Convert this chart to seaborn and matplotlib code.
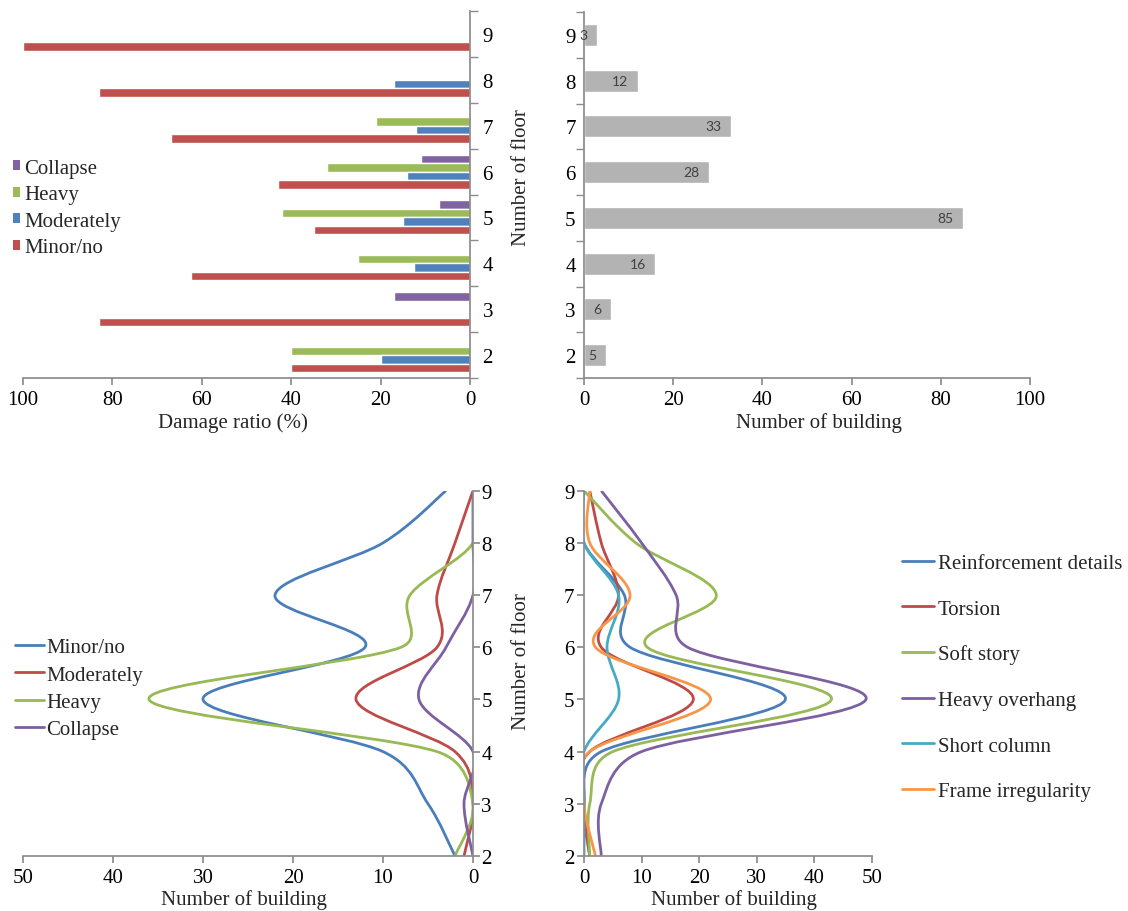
import numpy as np
import pandas as pd
import matplotlib
matplotlib.use("Agg")
import matplotlib.pyplot as plt
import seaborn as sns
from matplotlib.path import Path
from matplotlib.patches import PathPatch, Patch
from matplotlib.lines import Line2D

# data
floors = [2, 3, 4, 5, 6, 7, 8, 9]

# damage ratio (%) per floor
minor_pct = [40, 83, 62.5, 35, 43, 67, 83, 100]
moderate_pct = [20, 0, 12.5, 15, 14, 12, 17, 0]
heavy_pct = [40, 0, 25, 42, 32, 21, 0, 0]
collapse_pct = [0, 17, 0, 7, 11, 0, 0, 0]

# number of buildings per floor
buildings = [5, 6, 16, 85, 28, 33, 12, 3]

# number of buildings per damage level
minor_n = [2, 5, 10, 30, 12, 22, 10, 3]
moderate_n = [1, 0, 2, 13, 4, 4, 2, 0]
heavy_n = [2, 0, 4, 36, 8, 7, 0, 0]
collapse_n = [0, 1, 0, 6, 3, 0, 0, 0]

# number of buildings per cause
reinf_n = [1, 0, 3, 35, 8, 7, 0, 0]
torsion_n = [1, 0, 1, 19, 3, 6, 3, 1]
soft_n = [1, 1, 5, 43, 11, 23, 9, 0]
overhang_n = [3, 3, 10, 49, 18, 16, 10, 3]
short_n = [0, 0, 0, 6, 4, 6, 0, 0]
frame_n = [2, 0, 1, 22, 2, 8, 1, 1]

damage_levels = ['Collapse', 'Heavy', 'Moderately', 'Minor/no']
causes = ['Reinforcement details', 'Torsion', 'Soft story', 'Heavy overhang',
          'Short column', 'Frame irregularity']

bar_colors = {'Minor/no': '#C0504D', 'Moderately': '#4F81BD',
              'Heavy': '#9BBB59', 'Collapse': '#8064A2'}
line_colors = {'Minor/no': '#4A7EBB', 'Moderately': '#BE4B48',
               'Heavy': '#98B954', 'Collapse': '#7D60A0'}
cause_colors = ['#4A7EBB', '#BE4B48', '#98B954', '#7D60A0', '#46AAC5', '#F79646']

FS = 15
sns.set_theme(style='white')
plt.rcParams['font.family'] = ['Liberation Serif', 'DejaVu Serif']
plt.rcParams['font.size'] = FS
plt.rcParams['axes.edgecolor'] = '#8c8c8c'
plt.rcParams['xtick.color'] = '#8c8c8c'
plt.rcParams['ytick.color'] = '#8c8c8c'
plt.rcParams['xtick.labelcolor'] = 'black'
plt.rcParams['ytick.labelcolor'] = 'black'

W, H = 1128, 912
fig = plt.figure(figsize=(W / 100, H / 100), dpi=100)


def px_axes(x0, y0, x1, y1):
    return fig.add_axes([x0 / W, 1 - y1 / H, (x1 - x0) / W, (y1 - y0) / H])


def smooth_path(xs, ys, sx, sy):
    # spreadsheet-style smoothed line: catmull-rom handles (1/6 of neighbour span),
    # clamped to half the segment length; worked out in pixel-like units
    P = np.column_stack([np.asarray(xs, float) * sx, np.asarray(ys, float) * sy])
    n = len(P)
    verts = [P[0]]
    codes = [Path.MOVETO]
    for i in range(n - 1):
        p0 = P[max(i - 1, 0)]
        p1 = P[i]
        p2 = P[i + 1]
        p3 = P[min(i + 2, n - 1)]
        d12 = np.linalg.norm(p2 - p1)
        h1 = (p2 - p0) / 6
        h2 = (p3 - p1) / 6
        for h in (h1, h2):
            L = np.linalg.norm(h)
            if L > d12 / 2:
                h *= (d12 / 2) / L
        verts += [p1 + h1, p2 - h2, p2]
        codes += [Path.CURVE4] * 3
    verts = np.array(verts) / [sx, sy]
    return Path(verts, codes)


order = [str(f) for f in floors[::-1]]
bounds = np.arange(-0.5, len(floors), 1.0)

# ---------------- top left: damage ratio ----------------
ax1 = px_axes(23, 12, 470, 379)
pct = pd.DataFrame({
    'floor': [str(f) for f in floors] * 4,
    'level': ['Minor/no'] * 8 + ['Moderately'] * 8 + ['Heavy'] * 8 + ['Collapse'] * 8,
    'ratio': minor_pct + moderate_pct + heavy_pct + collapse_pct,
})
sns.barplot(data=pct, x='ratio', y='floor', hue='level', order=order,
            hue_order=damage_levels, palette=bar_colors, orient='h',
            width=0.74, gap=0, saturation=1, legend=False, ax=ax1)
ax1.set_xlim(100, 0)
ax1.set_ylim(7.5, -0.5)
ax1.set_xticks([100, 80, 60, 40, 20, 0])
ax1.yaxis.tick_right()
ax1.set_yticks(bounds, minor=True)
ax1.tick_params(axis='y', which='major', length=0, pad=9, labelsize=FS)
ax1.tick_params(axis='y', which='minor', length=6, right=True, left=False, direction='out')
ax1.tick_params(axis='x', length=5, direction='out', bottom=True, labelsize=FS)
for s in ['top', 'left']:
    ax1.spines[s].set_visible(False)
ax1.set_ylabel('')
ax1.set_xlabel('Damage ratio (%)', fontsize=FS)
ax1.xaxis.set_label_coords(0.469, -0.093)
h1 = [Patch(facecolor=bar_colors[k], edgecolor='none') for k in damage_levels]
ax1.legend(h1, damage_levels, loc='upper left', bbox_to_anchor=(-0.042, 0.62),
           frameon=False, fontsize=FS, handlelength=0.35, handleheight=0.35,
           handletextpad=0.2, labelspacing=0.36, borderaxespad=0)

# ---------------- top right: number of building ----------------
ax2 = px_axes(584, 13, 1030, 379)
nb = pd.DataFrame({'floor': [str(f) for f in floors], 'count': buildings})
sns.barplot(data=nb, x='count', y='floor', order=order, orient='h',
            color='#b3b3b3', saturation=1, width=0.48, ax=ax2)
for yi, fl in enumerate(order):
    v = buildings[floors.index(int(fl))]
    ax2.annotate(str(v), (v, yi), xytext=(-7, 0), textcoords='offset points',
                 ha='right', va='center', fontsize=10, color='#404040',
                 family=['Lato', 'DejaVu Sans'])
ax2.set_xlim(0, 100)
ax2.set_ylim(7.5, -0.5)
ax2.set_xticks([0, 20, 40, 60, 80, 100])
ax2.set_yticks(bounds, minor=True)
ax2.tick_params(axis='y', which='major', length=0, pad=6, labelsize=FS)
ax2.tick_params(axis='y', which='minor', length=6, left=True, direction='out')
ax2.tick_params(axis='x', length=5, direction='out', bottom=True, labelsize=FS)
for s in ['top', 'right']:
    ax2.spines[s].set_visible(False)
ax2.set_xlabel('Number of building', fontsize=FS)
ax2.xaxis.set_label_coords(0.527, -0.093)
ax2.set_ylabel('Number of floor', fontsize=FS)
ax2.yaxis.set_label_coords(-0.119, 0.55)

# ---------------- bottom left: damage level curves ----------------
ax3 = px_axes(23, 491.7, 473, 857)
names3 = ['Minor/no', 'Moderately', 'Heavy', 'Collapse']
for name, vals in zip(names3, [minor_n, moderate_n, heavy_n, collapse_n]):
    ax3.add_patch(PathPatch(smooth_path(vals, floors, 9.0, 52.1), facecolor='none',
                            edgecolor=line_colors[name], lw=2))
ax3.set_xlim(50, 0)
ax3.set_ylim(2, 9)
ax3.set_xticks([50, 40, 30, 20, 10, 0])
ax3.set_yticks(floors)
ax3.yaxis.tick_right()
ax3.tick_params(axis='y', length=5, direction='out', right=True, left=False, pad=1, labelsize=FS)
ax3.tick_params(axis='x', length=5, direction='out', bottom=True, labelsize=FS)
for s in ['top', 'left']:
    ax3.spines[s].set_visible(False)
ax3.set_xlabel('Number of building', fontsize=FS)
ax3.xaxis.set_label_coords(0.49, -0.09)
h3 = [Line2D([], [], color=line_colors[k], lw=2) for k in names3]
ax3.legend(h3, names3, loc='upper left', bbox_to_anchor=(-0.036, 0.62),
           frameon=False, fontsize=FS, handlelength=1.4, handletextpad=0.1,
           labelspacing=0.37, borderaxespad=0)

# ---------------- bottom right: cause curves ----------------
ax4 = px_axes(584, 491.7, 871.7, 857)
for name, vals, c in zip(causes,
                         [reinf_n, torsion_n, soft_n, overhang_n, short_n, frame_n],
                         cause_colors):
    ax4.add_patch(PathPatch(smooth_path(vals, floors, 5.75, 52.1), facecolor='none',
                            edgecolor=c, lw=2))
ax4.set_xlim(0, 50)
ax4.set_ylim(2, 9)
ax4.set_xticks([0, 10, 20, 30, 40, 50])
ax4.set_yticks(floors)
ax4.tick_params(axis='y', length=5, direction='out', left=True, pad=2, labelsize=FS)
ax4.tick_params(axis='x', length=5, direction='out', bottom=True, labelsize=FS)
for s in ['top', 'right']:
    ax4.spines[s].set_visible(False)
ax4.set_xlabel('Number of building', fontsize=FS)
ax4.xaxis.set_label_coords(0.52, -0.09)
ax4.set_ylabel('Number of floor', fontsize=FS)
ax4.yaxis.set_label_coords(-0.184, 0.535)
h4 = [Line2D([], [], color=c, lw=2) for c in cause_colors]
fig.legend(h4, causes, loc='upper left', bbox_to_anchor=(894 / W, 1 - 546 / H),
           frameon=False, fontsize=FS, handlelength=1.5, handletextpad=0.2,
           labelspacing=1.25, borderaxespad=0)

fig.savefig('out.png', dpi=100)
